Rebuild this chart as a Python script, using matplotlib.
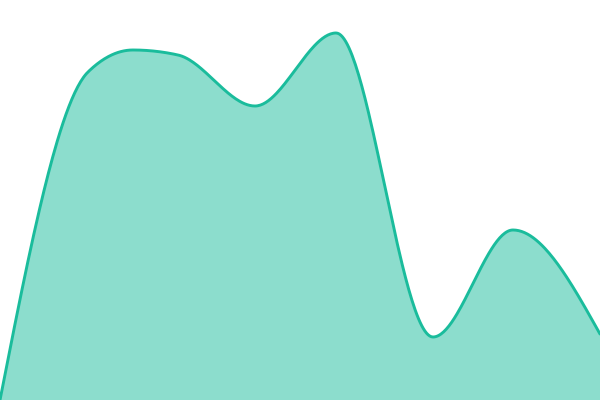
import numpy as np
import matplotlib
matplotlib.use("Agg")
import matplotlib.pyplot as plt

# points (x from the left edge, value from the bottom edge)
xs = [0, 88, 133, 178, 255, 336, 433, 513, 600]
values = [0, 328, 350, 345, 294, 367, 63, 170, 66]


def monotone(x, y, n=60):
    # monotone cubic, same rule as d3.curveMonotoneX
    x = np.asarray(x, float)
    y = np.asarray(y, float)
    h = np.diff(x)
    s = np.diff(y) / h
    m = np.zeros_like(y)
    for i in range(1, len(x) - 1):
        p = (s[i - 1] * h[i] + s[i] * h[i - 1]) / (h[i - 1] + h[i])
        m[i] = (np.sign(s[i - 1]) + np.sign(s[i])) * min(abs(s[i - 1]), abs(s[i]), 0.5 * abs(p))
    m[0] = (3 * s[0] - m[1]) / 2
    m[-1] = (3 * s[-1] - m[-2]) / 2
    px, py = [], []
    for i in range(len(x) - 1):
        t = np.linspace(0, 1, n, endpoint=False)
        h00 = 2 * t**3 - 3 * t**2 + 1
        h10 = t**3 - 2 * t**2 + t
        h01 = -2 * t**3 + 3 * t**2
        h11 = t**3 - t**2
        px.append(x[i] + t * h[i])
        py.append(h00 * y[i] + h10 * h[i] * m[i] + h01 * y[i + 1] + h11 * h[i] * m[i + 1])
    px.append([x[-1]])
    py.append([y[-1]])
    return np.concatenate(px), np.concatenate(py)


cx, cy = monotone(xs, values)

fig = plt.figure(figsize=(6, 4), dpi=100)
ax = fig.add_axes([0, 0, 1, 1])
ax.fill_between(cx, 0, cy, color="#1abc9c", alpha=0.5, linewidth=0)
ax.plot(cx, cy, color="#1abc9c", linewidth=2.1, solid_capstyle="round")
ax.set_xlim(0, 600)
ax.set_ylim(0, 400)
ax.axis("off")

fig.savefig("out.png", dpi=100)
